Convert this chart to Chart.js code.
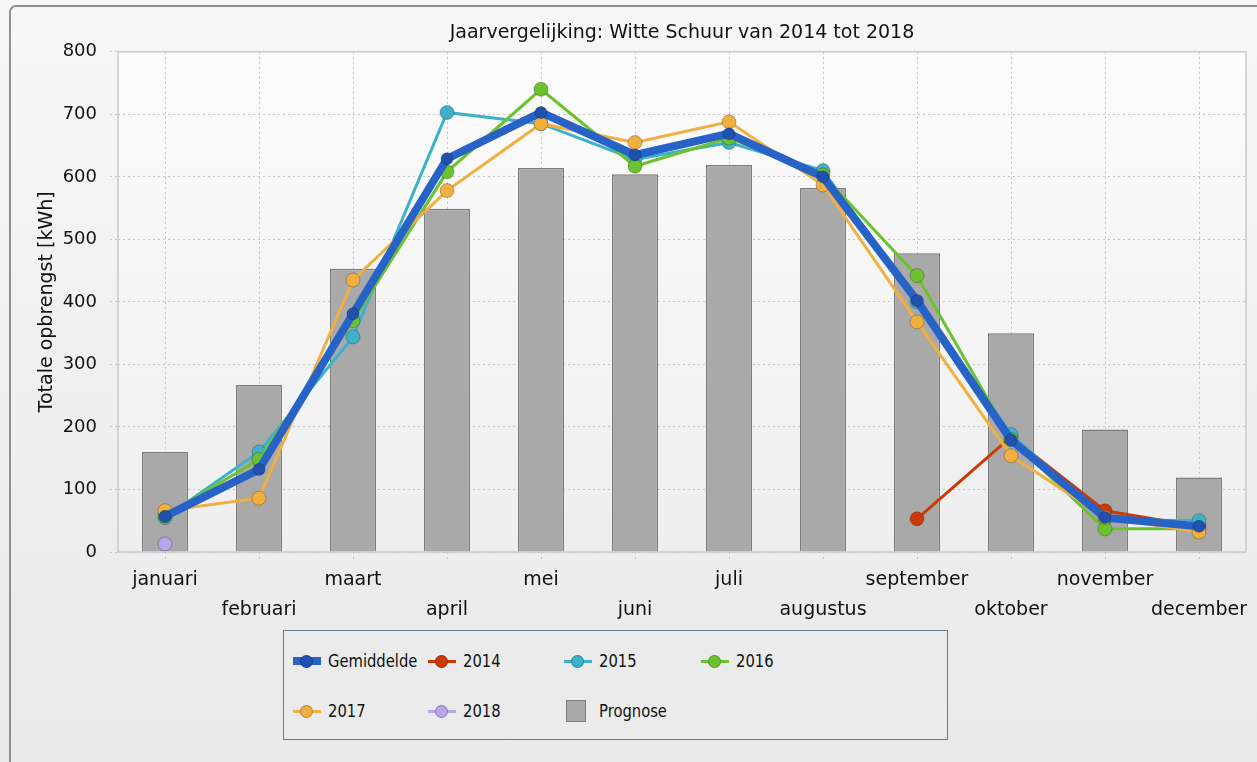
<!DOCTYPE html>
<html>
<head>
<meta charset="utf-8">
<script src="https://cdn.jsdelivr.net/npm/chart.js@4"></script>
<style>
    body { margin: 0; background: #f0f0f0; font-family: "DejaVu Sans", sans-serif; }
    #wrap { position: relative; width: 1257px; height: 762px; overflow: hidden;
            background: linear-gradient(#f7f7f7, #e9e9e9); }
    #frame { position: absolute; left: 9px; top: 5px; width: 1300px; height: 800px;
             border: 2px solid #8b9096; border-radius: 7px; box-sizing: border-box; }
    #legend { position: absolute; left: 283px; top: 630px; width: 665px; height: 110px;
              border: 1px solid #6f7c88; background: #ebebeb; box-sizing: border-box; }
    .item { position: absolute; font-size: 18px; color: #111; line-height: 20px; }
    .sym { position: absolute; top: 10px; left: 0; width: 28px; }
    .line { position: absolute; left: 0; width: 28px; }
    .dot { position: absolute; left: 7px; width: 13px; height: 13px; border-radius: 50%; top: -6.5px; box-sizing: border-box; border: 1px solid rgba(0,0,0,0.25); }
    .box { position: absolute; left: 2px; top: -11px; width: 20px; height: 22px; background: #a9a9a9; border: 1.5px solid #7c7c7c; box-sizing: border-box; }
    .lbl { position: absolute; left: 35px; top: 0; white-space: nowrap; transform: scaleX(0.82); transform-origin: left center; }
</style>
</head>
<body>
<div id="wrap">
    <canvas id="chart" width="1257" height="762"></canvas>
    <div id="frame"></div>
    <div id="legend"></div>
</div>
<script>
const months = ['januari', 'februari', 'maart', 'april', 'mei', 'juni', 'juli', 'augustus', 'september', 'oktober', 'november', 'december']
const gemiddelde = [57, 132, 381, 629, 703, 635, 669, 600, 402, 179, 55, 41]
const y2014 = [null, null, null, null, null, null, null, null, 53, 184, 66, 41]
const y2015 = [55, 160, 344, 703, 685, 628, 655, 610, 400, 188, 52, 50]
const y2016 = [58, 148, 370, 608, 740, 617, 662, 603, 442, 180, 37, 37]
const y2017 = [66, 86, 435, 578, 685, 655, 688, 587, 368, 154, 55, 32]
const y2018 = [13, null, null, null, null, null, null, null, null, null, null, null]
const prognose = [160, 267, 453, 549, 614, 604, 619, 582, 478, 350, 196, 119]
const yTicks = [0, 100, 200, 300, 400, 500, 600, 700, 800]

const series = [
    { name: 'Gemiddelde', data: gemiddelde, color: '#2763c6', point: '#1f52b0', width: 8, radius: 6 },
    { name: '2014', data: y2014, color: '#cc3a06', point: '#cc3a06', width: 3, radius: 7 },
    { name: '2015', data: y2015, color: '#3cb1c8', point: '#3cb1c8', width: 3, radius: 7 },
    { name: '2016', data: y2016, color: '#6cc22e', point: '#6cc22e', width: 3, radius: 7 },
    { name: '2017', data: y2017, color: '#f0b040', point: '#f0b040', width: 3, radius: 7 },
    { name: '2018', data: y2018, color: '#bba4ec', point: '#bba4ec', width: 3, radius: 7 },
]

const datasets = series.map((s, i) => ({
    type: 'line',
    label: s.name,
    data: s.data,
    borderColor: s.color,
    backgroundColor: s.point,
    borderWidth: s.width,
    pointRadius: s.radius,
    pointBorderWidth: 1,
    pointBorderColor: 'rgba(0,0,0,0.25)',
    pointBackgroundColor: s.point,
    order: i === 0 ? 0 : 7 - i,
    tension: 0,
}))
datasets.push({
    type: 'bar',
    label: 'Prognose',
    data: prognose,
    backgroundColor: '#a9a9a9',
    borderColor: '#7c7c7c',
    borderWidth: 1.5,
    barPercentage: 0.49,
    categoryPercentage: 1,
    order: 20,
})

const plotBg = {
    id: 'plotBg',
    beforeDraw(chart) {
        const { ctx, chartArea: a } = chart
        const g = ctx.createLinearGradient(0, a.top, 0, a.bottom)
        g.addColorStop(0, '#fcfcfc')
        g.addColorStop(1, '#eeeeee')
        ctx.save()
        ctx.fillStyle = g
        ctx.fillRect(a.left, a.top, a.right - a.left, a.bottom - a.top)
        ctx.restore()
    },
    afterDraw(chart) {
        const { ctx, chartArea: a } = chart
        ctx.save()
        ctx.strokeStyle = '#c6ccd2'
        ctx.lineWidth = 1.5
        ctx.strokeRect(a.left, a.top, a.right - a.left, a.bottom - a.top)
        ctx.restore()
    }
}

const family = '"DejaVu Sans", sans-serif'

new Chart('chart', {
    data: { labels: months, datasets: datasets },
    options: {
        responsive: false,
        animation: false,
        layout: { padding: { left: 34, right: 11, top: 0, bottom: 137 } },
        plugins: {
            legend: { display: false },
            tooltip: { enabled: false },
            title: {
                display: true,
                text: 'Jaarvergelijking: Witte Schuur van 2014 tot 2018',
                fullSize: false,
                color: '#111',
                font: { family: family, size: 19, weight: 'normal' },
                padding: { top: 22, bottom: 7 },
            },
        },
        scales: {
            x: {
                offset: true,
                grid: { offset: false, color: '#c4c4c4', lineWidth: 1, tickLength: 10, tickBorderDash: [2, 3] },
                border: { display: false, dash: [2, 3] },
                ticks: {
                    autoSkip: false, maxRotation: 0, minRotation: 0,
                    color: '#111', font: { family: family, size: 19, lineHeight: 1.58 }, padding: 3,
                    callback: (v, i) => i % 2 ? ['', months[i]] : months[i],
                },
                afterFit(s) { s.height = 73 },
            },
            y: {
                min: 0, max: 800,
                afterBuildTicks(s) { s.ticks = yTicks.map(v => ({ value: v })) },
                grid: { color: '#c4c4c4', lineWidth: 1, tickLength: 8, tickBorderDash: [2, 3] },
                border: { display: false, dash: [2, 3] },
                ticks: { color: '#111', font: { family: family, size: 18 }, padding: 13 },
                title: { display: true, text: 'Totale opbrengst [kWh]', color: '#111', font: { family: family, size: 19 }, padding: 2 },
                afterFit(s) { s.width = 84 },
            },
        },
    },
    plugins: [plotBg],
})

// legend box, two rows of four
const legend = document.getElementById('legend')
const cols = [9, 144, 280, 417]
const entries = series.map(s => ({ name: s.name, color: s.color, point: s.point, width: s.width, bar: false }))
entries.push({ name: 'Prognose', bar: true })
entries.forEach((e, i) => {
    const col = i % 4
    const row = i < 4 ? 0 : 1
    const item = document.createElement('div')
    item.className = 'item'
    item.style.left = cols[col] + 'px'
    item.style.top = (row === 0 ? 20 : 70) + 'px'
    let sym = ''
    if (e.bar) {
        sym = '<div class="sym"><div class="box"></div></div>'
    } else {
        sym = '<div class="sym"><div class="line" style="height:' + e.width + 'px;top:' + (-e.width / 2) + 'px;background:' + e.color + '"></div>' +
              '<div class="dot" style="background:' + e.point + '"></div></div>'
    }
    item.innerHTML = sym + '<span class="lbl">' + e.name + '</span>'
    legend.appendChild(item)
})
</script>
</body>
</html>
